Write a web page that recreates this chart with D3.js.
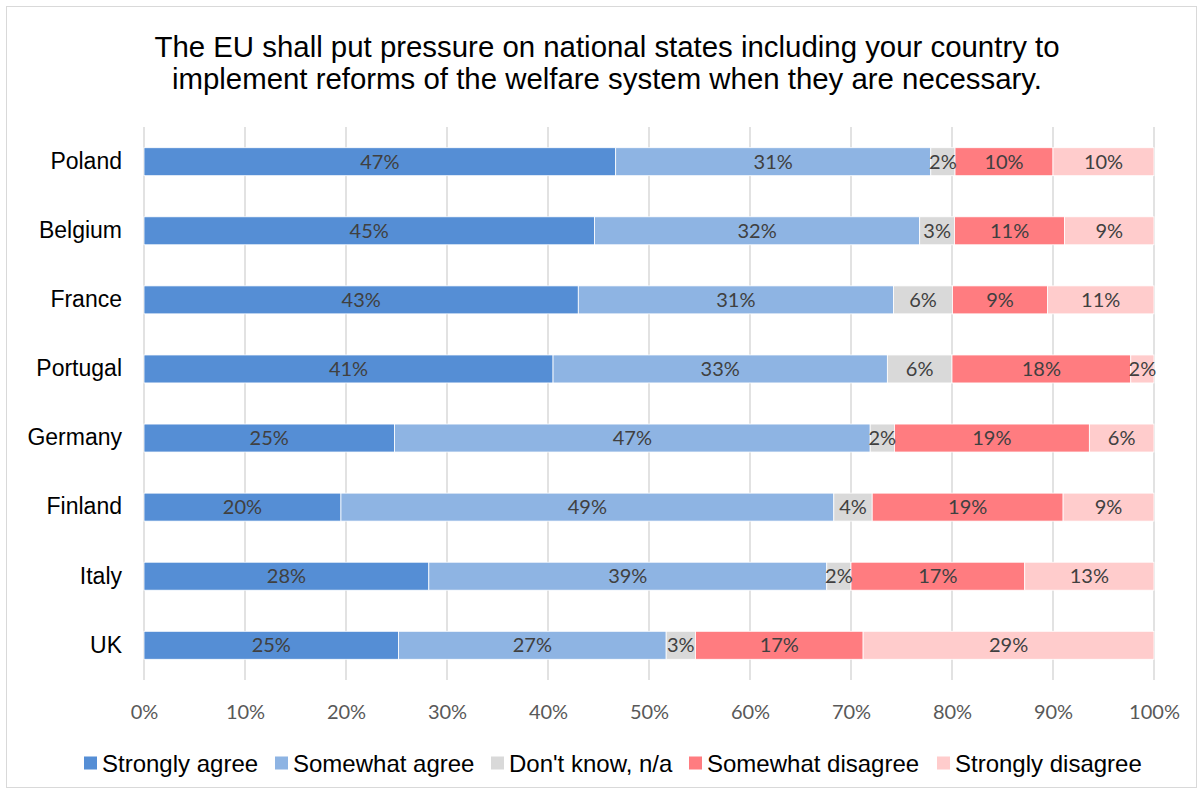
<!DOCTYPE html>
<html>
<head>
<meta charset="utf-8">
<script src="https://cdn.jsdelivr.net/npm/d3@7/dist/d3.min.js"></script>
<style>
  html, body { margin: 0; padding: 0; background: #fff; }
  svg { display: block; }
</style>
</head>
<body>
<svg id="chart" width="1203" height="794"></svg>
<script>
const countries = ["Poland", "Belgium", "France", "Portugal", "Germany", "Finland", "Italy", "UK"];
const seriesNames = ["Strongly agree", "Somewhat agree", "Don't know, n/a", "Somewhat disagree", "Strongly disagree"];
const seriesColors = ["#558ED5", "#8EB4E3", "#D9D9D9", "#FF7C80", "#FFCCCC"];
const stronglyAgree    = [46.7, 44.6, 43.0, 40.5, 24.8, 19.5, 28.2, 25.2];
const somewhatAgree    = [31.2, 32.2, 31.2, 33.1, 47.1, 48.8, 39.4, 26.5];
const dontKnow         = [2.4, 3.45, 5.85, 6.4, 2.4, 3.8, 2.4, 2.9];
const somewhatDisagree = [9.7, 10.9, 9.4, 17.7, 19.3, 18.9, 17.2, 16.6];
const stronglyDisagree = [10.0, 8.85, 10.55, 2.3, 6.4, 9.0, 12.8, 28.8];
const tickValues = [0, 10, 20, 30, 40, 50, 60, 70, 80, 90, 100];
const titleLines = ["The EU shall put pressure on national states including your country to",
                    "implement reforms of the welfare system when they are necessary."];

const seriesValues = [stronglyAgree, somewhatAgree, dontKnow, somewhatDisagree, stronglyDisagree];
const rows = countries.map((c, i) => {
  const r = { country: c };
  seriesNames.forEach((s, j) => r[s] = seriesValues[j][i]);
  return r;
});

const svg = d3.select("#chart");

// outer border
svg.append("rect").attr("x", 6.5).attr("y", 6.5).attr("width", 1190).attr("height", 781)
  .attr("fill", "#fff").attr("stroke", "#D9D9D9").attr("stroke-width", 1);

const x = d3.scaleLinear().domain([0, 100]).range([144, 1154]);
const y = d3.scaleBand().domain(countries).range([127, 680]).paddingInner(0.595).paddingOuter(0.3);

// title
svg.append("g").selectAll("text").data(titleLines).join("text")
  .attr("x", 607).attr("y", (d, i) => 57 + i * 32)
  .attr("text-anchor", "middle")
  .attr("font-family", "Liberation Sans, Arial, sans-serif")
  .attr("font-size", 29.4).attr("fill", "#000")
  .text(d => d);

// gridlines
svg.append("g").selectAll("line").data(tickValues).join("line")
  .attr("x1", d => x(d)).attr("x2", d => x(d))
  .attr("y1", 127).attr("y2", 680)
  .attr("stroke", "#D9D9D9").attr("stroke-width", 1.5);

// x axis tick labels
const xAxis = d3.axisBottom(x).tickValues(tickValues).tickFormat(d => d + "%").tickSize(0).tickPadding(0);
const gx = svg.append("g").attr("transform", "translate(0,712)").call(xAxis);
gx.select(".domain").remove();
gx.selectAll("text").attr("font-family", "Lato, 'Open Sans', sans-serif")
  .attr("font-size", 20).attr("fill", "#595959").attr("dy", "0.36em");

// y axis labels
const yAxis = d3.axisLeft(y).tickSize(0).tickPadding(0);
const gy = svg.append("g").attr("transform", "translate(122,0)").call(yAxis);
gy.select(".domain").remove();
gy.selectAll("text").attr("font-family", "Liberation Sans, Arial, sans-serif")
  .attr("font-size", 23).attr("fill", "#000");

// stacks
const stack = d3.stack().keys(seriesNames);
const stacked = stack(rows);

const layers = svg.append("g").selectAll("g").data(stacked).join("g")
  .attr("fill", (d, i) => seriesColors[i]);

layers.selectAll("rect").data(d => d).join("rect")
  .attr("x", d => x(d[0]))
  .attr("y", d => y(d.data.country))
  .attr("width", d => x(d[1]) - x(d[0]))
  .attr("height", y.bandwidth())
  .attr("stroke", "#fff").attr("stroke-width", 0.8);

// data labels
const labels = svg.append("g");
stacked.forEach((layer, si) => {
  labels.selectAll(null).data(layer).join("text")
    .attr("x", d => (x(d[0]) + x(d[1])) / 2)
    .attr("y", d => y(d.data.country) + y.bandwidth() / 2)
    .attr("text-anchor", "middle").attr("dy", "0.36em")
    .attr("font-family", "Lato, 'Open Sans', sans-serif")
    .attr("font-size", 20).attr("fill", "#404040")
    .text(d => Math.round(d[1] - d[0]) + "%");
});

// legend
const legendTextX = [102, 293, 509, 707, 955];
const lg = svg.append("g").selectAll("g").data(seriesNames).join("g")
  .attr("transform", (d, i) => `translate(${legendTextX[i]},763)`);
lg.append("rect").attr("x", -18).attr("y", -6.5).attr("width", 13).attr("height", 13)
  .attr("fill", (d, i) => seriesColors[i]);
lg.append("text").attr("x", 0).attr("y", 0).attr("dy", "0.36em")
  .attr("font-family", "Liberation Sans, Arial, sans-serif")
  .attr("font-size", 24).attr("fill", "#000")
  .text(d => d);
</script>
</body>
</html>
